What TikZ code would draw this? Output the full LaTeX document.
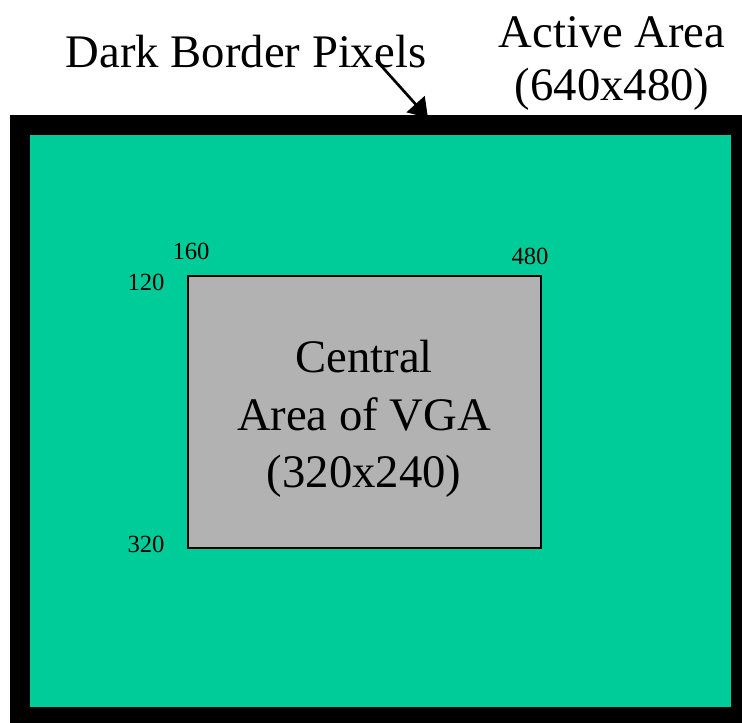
\documentclass[tikz,border=0pt]{standalone}
\usepackage{fontspec}
\setmainfont{Liberation Serif}
\usetikzlibrary{arrows.meta}
\definecolor{activegreen}{RGB}{0,204,153}
\definecolor{centralgray}{RGB}{178,178,178}
\tikzset{
  bigtext/.style={font=\fontsize{35}{43}\selectfont, inner sep=0pt, anchor=base},
  smalltext/.style={font=\fontsize{18.5}{22}\selectfont, inner sep=0pt, anchor=base},
  pointer/.style={line width=2pt, -{Triangle[length=14pt,width=18pt]}}
}
\begin{document}
\begin{tikzpicture}[x=0.75pt,y=-0.75pt]
\useasboundingbox (0,0) rectangle (742,722);
\clip (0,0) rectangle (742,722);
% frame and active area
\fill[black] (10,115) rectangle (760,740);
\fill[activegreen] (30,135) rectangle (731,707);
\node[coordinate] (tipc) at (428,118) {};
% central area
\draw[fill=centralgray, line width=1.5pt] (188,276) rectangle (541,548);
\node[bigtext] (c1) at (364,372) {Central};
\node[bigtext] (c2) at (364,430) {Area of VGA};
\node[bigtext] (c3) at (364,487) {(320x240)};
% corner numbers
\node[smalltext] (n160) at (191,259) {160};
\node[smalltext] (n480) at (530,264) {480};
\node[smalltext] (n120) at (146,290) {120};
\node[smalltext] (n320) at (146,552) {320};
% top labels
\node[bigtext] (dark) at (246,67) {Dark Border Pixels};
\node[bigtext] (act1) at (612,47) {Active Area};
\node[bigtext] (act2) at (612,100) {(640x480)};
\coordinate (arrstart) at (376,60);
\draw[pointer] (arrstart) -- (tipc);
\end{tikzpicture}
\end{document}
